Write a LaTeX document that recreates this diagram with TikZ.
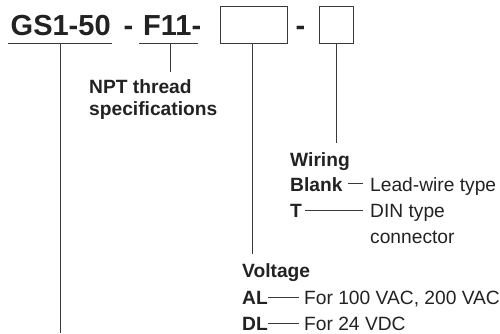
\documentclass[tikz,border=0pt]{standalone}
\usepackage{fontspec}
\setmainfont{Liberation Sans}
\definecolor{ink}{HTML}{222222}
\definecolor{wire}{HTML}{3A3A3A}
\begin{document}
\begin{tikzpicture}[x=1pt,y=-1pt,
  txt/.style={anchor=base west, inner sep=0pt, text=ink, font=\fontsize{19.2}{22}\selectfont},
  btxt/.style={txt, font=\fontsize{19.2}{22}\selectfont\bfseries},
  big/.style={anchor=base west, inner sep=0pt, text=ink, font=\fontsize{29}{32}\selectfont\bfseries},
  box/.style={draw=wire, line width=1pt, anchor=north west, inner sep=0pt, minimum height=37pt},
  ln/.style={draw=wire, line width=1pt}]
\useasboundingbox (0,0) rectangle (500,333);

% code line
\node[big] (gs) at (10.5,35) {GS1-50};
\node[big] (d1) at (123.5,35) {-};
\node[big] (f11) at (143,35) {F11-};
\node[box, minimum width=67pt] (b1) at (220,6) {};
\node[big] (d2) at (295.5,35) {-};
\node[box, minimum width=34pt] (b2) at (319,6) {};

% underlines
\coordinate (gsL) at (8,43.5);
\coordinate (gsR) at (112,43.5);
\coordinate (fL) at (139,43.5);
\coordinate (fR) at (198,43.5);
\draw[ln] (gsL) -- (gsR);
\draw[ln] (fL) -- (fR);

% leader lines
\coordinate (gsT) at (60,43.5);
\coordinate (gsB) at (60,333);
\draw[ln] (gsT) -- (gsB);
\coordinate (fT) at (170,43.5);
\coordinate (fB) at (170,72);
\draw[ln] (fT) -- (fB);
\coordinate (b1B) at (252.5,254);
\draw[ln] (b1.south -| b1B) -- (b1B);
\coordinate (b2B) at (336,143);
\draw[ln] (b2.south -| b2B) -- (b2B);

% NPT
\node[btxt] (npt) at (89,93) {NPT thread};
\node[btxt] (spec) at (89,115) {specifications};

% Wiring
\node[btxt] (wir) at (290,166) {Wiring};
\node[btxt] (blank) at (290,191) {Blank};
\node[txt] (lead) at (370,191) {Lead-wire type};
\node[btxt] (t) at (290,217) {T};
\node[txt] (din) at (370,217) {DIN type};
\node[txt] (conn) at (370,243) {connector};
\coordinate (blA) at (348,183);
\coordinate (blB) at (363,183);
\draw[ln] (blA) -- (blB);
\coordinate (tA) at (305,210);
\coordinate (tB) at (363,210);
\draw[ln] (tA) -- (tB);

% Voltage
\node[btxt] (volt) at (242,277) {Voltage};
\node[btxt] (al) at (242,304) {AL};
\node[txt] (al2) at (304,304) {For 100 VAC, 200 VAC};
\node[btxt] (dl) at (242,330) {DL};
\node[txt] (dl2) at (304,330) {For 24 VDC};
\coordinate (alA) at (268,297);
\coordinate (alB) at (299,297);
\draw[ln] (alA) -- (alB);
\coordinate (dlA) at (268,323);
\coordinate (dlB) at (299,323);
\draw[ln] (dlA) -- (dlB);
\end{tikzpicture}
\end{document}
